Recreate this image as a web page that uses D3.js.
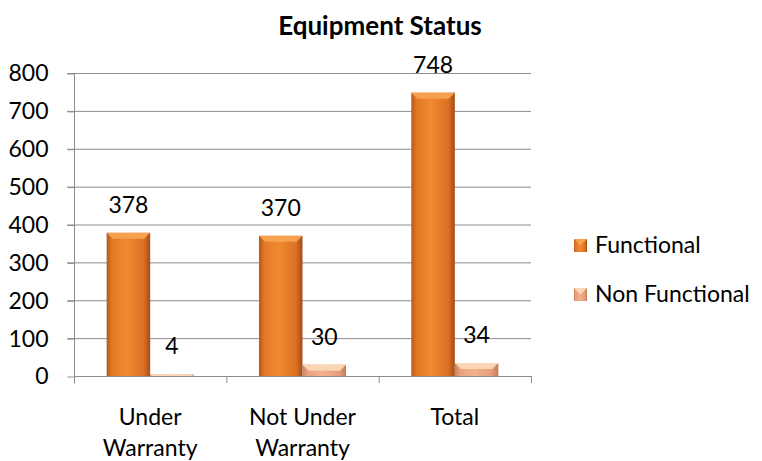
<!DOCTYPE html>
<html>
<head>
<meta charset="utf-8">
<script src="https://cdn.jsdelivr.net/npm/d3@7"></script>
<style>
  body { margin: 0; background: #fff; }
  text { font-family: Lato, "Open Sans", sans-serif; fill: #000; }
</style>
</head>
<body>
<script>
var categories = [['Under', 'Warranty'], ['Not Under', 'Warranty'], ['Total']];
var seriesNames = ['Functional', 'Non Functional'];
var functional = [378, 370, 748];
var nonFunctional = [4, 30, 34];
var yTicks = [0, 100, 200, 300, 400, 500, 600, 700, 800];

var width = 762, height = 461;
var fs = 23;

var canvas = d3.select('body')
    .append('svg')
    .attr('width', width)
    .attr('height', height)

var defs = canvas.append('defs')

// gradients for the bevelled bars
function grad(id, stops) {
    var g = defs.append('linearGradient').attr('id', id)
        .attr('x1', '0%').attr('x2', '100%').attr('y1', '0%').attr('y2', '0%')
    stops.forEach(function (s) {
        g.append('stop').attr('offset', s[0]).attr('stop-color', s[1])
    })
}
grad('gF', [['0%', '#b6581c'], ['12%', '#e27726'], ['45%', '#f08a30'], ['85%', '#dc7024'], ['100%', '#a44c18']])
grad('gN', [['0%', '#c98160'], ['12%', '#e9a07c'], ['45%', '#f2b28e'], ['85%', '#e59c78'], ['100%', '#c07a5a']])

var x0 = d3.scaleBand()
    .domain(d3.range(categories.length))
    .range([74, 531])
    .paddingInner(0)
    .paddingOuter(0)

var x1 = d3.scaleBand()
    .domain(seriesNames)
    .range([0, x0.bandwidth()])
    .paddingOuter(0.75)
    .paddingInner(0)

var y = d3.scaleLinear()
    .domain([0, 800])
    .range([376, 73])

// grid
canvas.append('g')
    .selectAll('line')
    .data(yTicks.slice(1))
    .enter()
    .append('line')
    .attr('x1', 67)
    .attr('x2', 531)
    .attr('y1', function (d) { return y(d) + 0.5; })
    .attr('y2', function (d) { return y(d) + 0.5; })
    .attr('stroke', '#8c8c8c')
    .attr('stroke-width', 1)

// y axis
var axisL = d3.axisLeft(y)
    .tickValues(yTicks)
    .tickSize(7)
    .tickPadding(19)

var gL = canvas.append('g')
    .attr('transform', 'translate(74.5,0.5)')
    .call(axisL)
gL.select('.domain').attr('stroke', '#8c8c8c').attr('d', 'M0,' + (y(800)) + 'V' + (y(0) + 7))
gL.selectAll('.tick line').attr('stroke', '#8c8c8c')
gL.selectAll('.tick text')
    .attr('font-size', fs)
    .attr('font-family', 'Lato, sans-serif')
    .attr('fill', '#000')

// bars
var colours = { 'Functional': 'url(#gF)', 'Non Functional': 'url(#gN)' };
var tops = { 'Functional': '#f7a04e', 'Non Functional': '#fbd6b4' };
var rows = categories.map(function (c, i) {
    return [{ s: 'Functional', v: functional[i], i: i }, { s: 'Non Functional', v: nonFunctional[i], i: i }]
})

var groups = canvas.selectAll('.grp')
    .data(rows)
    .enter()
    .append('g')
    .attr('transform', function (d, i) { return 'translate(' + x0(i) + ',0)'; })

var bar = groups.selectAll('g')
    .data(function (d) { return d; })
    .enter()
    .append('g')

bar.append('rect')
    .attr('x', function (d) { return x1(d.s); })
    .attr('y', function (d) { return y(d.v); })
    .attr('width', x1.bandwidth())
    .attr('height', function (d) { return y(0) - y(d.v); })
    .attr('fill', function (d) { return colours[d.s]; })

// top bevel
bar.append('path')
    .attr('d', function (d) {
        var xa = x1(d.s), w = x1.bandwidth(), t = y(d.v), h = Math.min(6, y(0) - y(d.v));
        return 'M' + xa + ',' + t + 'H' + (xa + w) + 'L' + (xa + w - h) + ',' + (t + h) + 'H' + (xa + h) + 'Z';
    })
    .attr('fill', function (d) { return tops[d.s]; })

bar.append('text')
    .attr('x', function (d) { return x1(d.s) + x1.bandwidth() / 2; })
    .attr('y', function (d) { return y(d.v) - 20; })
    .attr('text-anchor', 'middle')
    .attr('font-size', fs)
    .text(function (d) { return d.v; })

// x axis
canvas.append('line')
    .attr('x1', 74).attr('x2', 531)
    .attr('y1', 376.5).attr('y2', 376.5)
    .attr('stroke', '#8c8c8c')
canvas.append('g')
    .selectAll('line')
    .data(d3.range(categories.length + 1))
    .enter()
    .append('line')
    .attr('x1', function (d) { return d < categories.length ? x0(d) + 0.5 : x0(d - 1) + x0.bandwidth() + 0.5; })
    .attr('x2', function (d) { return d < categories.length ? x0(d) + 0.5 : x0(d - 1) + x0.bandwidth() + 0.5; })
    .attr('y1', 376).attr('y2', 383)
    .attr('stroke', '#8c8c8c')

var catText = canvas.append('g')
    .selectAll('text')
    .data(categories)
    .enter()
    .append('text')
    .attr('text-anchor', 'middle')
    .attr('font-size', fs)
    .attr('x', function (d, i) { return x0(i) + x0.bandwidth() / 2; })
    .attr('y', 425)
catText.selectAll('tspan')
    .data(function (d) { return d; })
    .enter()
    .append('tspan')
    .attr('x', function () { return d3.select(this.parentNode).attr('x'); })
    .attr('dy', function (d, i) { return i === 0 ? 0 : 31; })
    .text(function (d) { return d; })

// title
canvas.append('text')
    .text('Equipment Status')
    .attr('x', 380)
    .attr('y', 35)
    .attr('text-anchor', 'middle')
    .attr('font-size', 26)
    .attr('font-weight', 'bold')

// legend
var legend = canvas.selectAll('.legend')
    .data(seriesNames)
    .enter()
    .append('g')
    .attr('transform', function (d, i) { return 'translate(574,' + (239 + i * 49) + ')'; })
legend.append('rect')
    .attr('width', 13).attr('height', 13)
    .attr('fill', function (d) { return colours[d]; })
legend.append('path')
    .attr('d', 'M0,0H13L6.5,6.5Z')
    .attr('fill', function (d) { return tops[d]; })
legend.append('text')
    .attr('x', 21)
    .attr('y', 14)
    .attr('font-size', fs)
    .text(function (d) { return d; })
</script>
</body>
</html>
